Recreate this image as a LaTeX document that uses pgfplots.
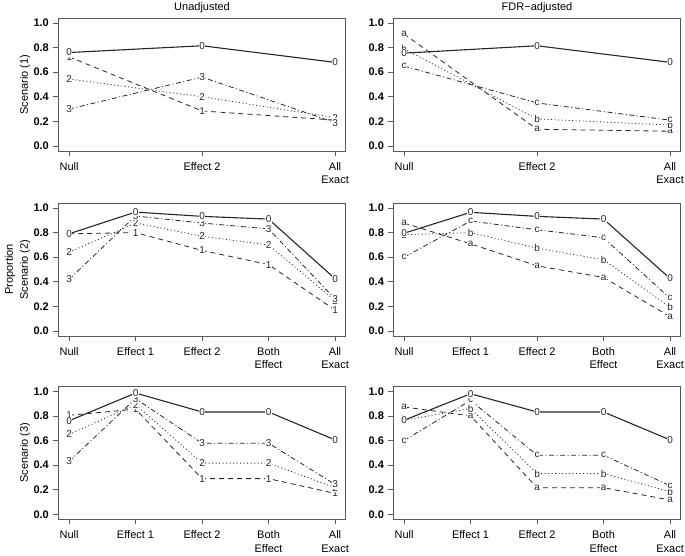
\documentclass[border=0pt]{standalone}
\usepackage{fontspec}
\setmainfont{Liberation Sans}
\usepackage{pgfplots}
\pgfplotsset{compat=1.18}
\begin{document}
\begin{tikzpicture}
\useasboundingbox (0pt,0pt) rectangle (685pt,555pt);
\pgfplotsset{
  rpanel/.style={
    scale only axis, width=287.3pt, height=132.8pt,
    anchor=south west,
    ymin=-0.04, ymax=1.04,
    ytick={0,0.2,0.4,0.6,0.8,1.0},
    yticklabel style={/pgf/number format/fixed, /pgf/number format/fixed zerofill, /pgf/number format/precision=1, /pgf/number format/assume math mode=true, font=\fontsize{11}{13}\selectfont\bfseries, xshift=-1pt},
    xticklabel style={font=\fontsize{11}{13.3}\selectfont, align=center, yshift=-3pt},
    tick align=outside, major tick length=5pt,
    tick style={black!65, line width=0.6pt},
    axis line style={black!65, line width=0.7pt},
    xtick pos=bottom, ytick pos=left,
    every axis title/.style={font=\fontsize{11}{13}\selectfont, at={(axis description cs:0.5,1)}, anchor=base, yshift=8pt},
    every axis y label/.style={at={(axis description cs:-0.116,0.5)}, rotate=90, anchor=center, font=\fontsize{11}{13}\selectfont},
    clip=false,
    every node near coord/.style={anchor=center, font=\fontsize{10}{12}\selectfont, fill=white, inner sep=0.6pt, text=black!85},
  },
  three/.style={xmin=-0.08, xmax=2.08, xtick={0,1,2}, xticklabels={Null, Effect 2, {All\\Exact}}},
  five/.style={xmin=-0.16, xmax=4.16, xtick={0,1,2,3,4}, xticklabels={Null, Effect 1, Effect 2, {Both\\Effect}, {All\\Exact}}},
  s0/.style={black!85, line width=1.1pt, nodes near coords={0}},
  s1/.style={black!85, line width=0.8pt, dash pattern=on 5pt off 4pt, nodes near coords={#1}},
  s2/.style={black!85, line width=0.8pt, dash pattern=on 1pt off 2.5pt, nodes near coords={#1}},
  s3/.style={black!85, line width=0.8pt, dash pattern=on 5pt off 2.5pt on 1pt off 2.5pt, nodes near coords={#1}},
}
% Row 1 left
\begin{axis}[rpanel, three, at={(58.4pt,404.1pt)}, title={Unadjusted}, ylabel={Scenario (1)}]
\addplot[s1=1] coordinates {(0,0.725) (1,0.285) (2,0.21)};
\addplot[s2=2] coordinates {(0,0.545) (1,0.40) (2,0.23)};
\addplot[s3=3] coordinates {(0,0.30) (1,0.56) (2,0.19)};
\addplot[s0] coordinates {(0,0.76) (1,0.815) (2,0.68)};
\end{axis}
% Row 1 right
\begin{axis}[rpanel, three, at={(393.4pt,404.1pt)}, title={FDR−adjusted}]
\addplot[s1=a] coordinates {(0,0.91) (1,0.136) (2,0.12)};
\addplot[s2=b] coordinates {(0,0.79) (1,0.22) (2,0.17)};
\addplot[s3=c] coordinates {(0,0.65) (1,0.35) (2,0.21)};
\addplot[s0] coordinates {(0,0.755) (1,0.815) (2,0.68)};
\end{axis}
% Row 2 left
\begin{axis}[rpanel, five, at={(58.4pt,219.1pt)}, ylabel={Scenario (2)}]
\addplot[s1=1] coordinates {(0,0.79) (1,0.80) (2,0.655) (3,0.54) (4,0.17)};
\addplot[s2=2] coordinates {(0,0.64) (1,0.878) (2,0.77) (3,0.70) (4,0.247)};
\addplot[s3=3] coordinates {(0,0.42) (1,0.935) (2,0.878) (3,0.83) (4,0.26)};
\addplot[s0] coordinates {(0,0.79) (1,0.967) (2,0.932) (3,0.91) (4,0.425)};
\node[rotate=90, anchor=center, font=\fontsize{11}{13}\selectfont] at (axis description cs:-0.168,0.5) {Proportion};
\end{axis}
% Row 2 right
\begin{axis}[rpanel, five, at={(393.4pt,219.1pt)}]
\addplot[s1=a] coordinates {(0,0.878) (1,0.709) (2,0.53) (3,0.435) (4,0.117)};
\addplot[s2=b] coordinates {(0,0.783) (1,0.80) (2,0.674) (3,0.579) (4,0.193)};
\addplot[s3=c] coordinates {(0,0.60) (1,0.894) (2,0.823) (3,0.758) (4,0.266)};
\addplot[s0] coordinates {(0,0.795) (1,0.965) (2,0.932) (3,0.91) (4,0.427)};
\end{axis}
% Row 3 left
\begin{axis}[rpanel, five, at={(58.4pt,35.8pt)}, ylabel={Scenario (3)}]
\addplot[s1=1] coordinates {(0,0.805) (1,0.855) (2,0.29) (3,0.29) (4,0.17)};
\addplot[s2=2] coordinates {(0,0.649) (1,0.892) (2,0.416) (3,0.416) (4,0.216)};
\addplot[s3=3] coordinates {(0,0.43) (1,0.94) (2,0.578) (3,0.578) (4,0.243)};
\addplot[s0] coordinates {(0,0.76) (1,0.986) (2,0.832) (3,0.832) (4,0.605)};
\end{axis}
% Row 3 right
\begin{axis}[rpanel, five, at={(393.4pt,35.8pt)}]
\addplot[s1=a] coordinates {(0,0.873) (1,0.80) (2,0.216) (3,0.216) (4,0.116)};
\addplot[s2=b] coordinates {(0,0.765) (1,0.86) (2,0.332) (3,0.332) (4,0.184)};
\addplot[s3=c] coordinates {(0,0.60) (1,0.927) (2,0.48) (3,0.48) (4,0.232)};
\addplot[s0] coordinates {(0,0.765) (1,0.98) (2,0.832) (3,0.832) (4,0.605)};
\end{axis}
\end{tikzpicture}
\end{document}
